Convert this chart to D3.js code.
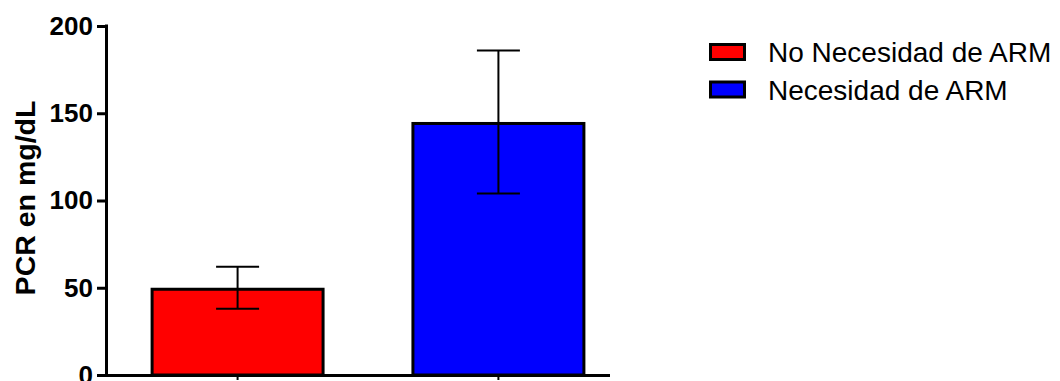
<!DOCTYPE html>
<html>
<head>
<meta charset="utf-8">
<script src="https://cdn.jsdelivr.net/npm/d3@7"></script>
<style>
  html, body { margin: 0; padding: 0; background: #fff; }
  svg { display: block; }
</style>
</head>
<body>
<svg id="chart" width="1060" height="381"></svg>
<script>
// PCR (mg/dL) by group: mean with error bar
const categories = ["No Necesidad de ARM", "Necesidad de ARM"];
const means = [50, 145];
const errors = [12, 41];
const colors = ["#ff0000", "#0000ff"];
const yTicks = [0, 50, 100, 150, 200];

const svg = d3.select("#chart");
const plotLeft = 106, plotRight = 630, plotTop = 26, plotBottom = 375;
const axisEnd = 610;

const x = d3.scaleBand()
  .domain(categories)
  .range([plotLeft, plotRight])
  .paddingInner(0.333)
  .paddingOuter(0.171);

const y = d3.scaleLinear().domain([0, 200]).range([plotBottom, plotTop]);

const data = categories.map((c, i) => ({ c, m: means[i], e: errors[i], col: colors[i] }));

// Bars
svg.append("g").selectAll("rect").data(data).join("rect")
  .attr("x", d => x(d.c) + 1.5)
  .attr("width", x.bandwidth() - 3)
  .attr("y", d => y(d.m) + 1.5)
  .attr("height", d => y(0) - y(d.m) - 1.5)
  .attr("fill", d => d.col)
  .attr("stroke", "#000")
  .attr("stroke-width", 3);

// Error bars
const capHalf = 21.5;
const eb = svg.append("g").attr("stroke", "#000").attr("stroke-width", 2);
data.forEach(d => {
  const cx = x(d.c) + x.bandwidth() / 2;
  eb.append("line").attr("x1", cx).attr("x2", cx).attr("y1", y(d.m + d.e)).attr("y2", y(d.m - d.e));
  eb.append("line").attr("x1", cx - capHalf).attr("x2", cx + capHalf).attr("y1", y(d.m + d.e)).attr("y2", y(d.m + d.e));
  eb.append("line").attr("x1", cx - capHalf).attr("x2", cx + capHalf).attr("y1", y(d.m - d.e)).attr("y2", y(d.m - d.e));
});

// Y axis
const yAxis = svg.append("g")
  .attr("transform", `translate(${plotLeft},0)`)
  .call(d3.axisLeft(y).tickValues(yTicks).tickSize(9).tickSizeOuter(0).tickPadding(4));
yAxis.select(".domain").attr("stroke-width", 3).attr("d", `M0.5,${plotTop - 1.5}V${plotBottom + 1.5}`);
yAxis.selectAll(".tick line").attr("stroke-width", 3);
yAxis.selectAll(".tick text")
  .attr("font-family", "Liberation Sans, Arial, sans-serif")
  .attr("font-weight", "bold")
  .attr("font-size", 26)
  .attr("fill", "#000");

// X axis
const xAxis = svg.append("g")
  .attr("transform", `translate(0,${plotBottom})`)
  .call(d3.axisBottom(x).tickSize(5).tickSizeOuter(0).tickFormat(""));
xAxis.select(".domain").attr("stroke-width", 3).attr("d", `M${plotLeft - 1},0.5H${axisEnd}`);
xAxis.selectAll(".tick line").attr("stroke-width", 2);

// Y axis title
svg.append("text")
  .attr("transform", `translate(35,198) rotate(-90)`)
  .attr("text-anchor", "middle")
  .attr("font-family", "Liberation Sans, Arial, sans-serif")
  .attr("font-weight", "bold")
  .attr("font-size", 28.5)
  .attr("fill", "#000")
  .text("PCR en mg/dL");

// Legend
const legend = svg.append("g").attr("transform", "translate(709,0)");
const rows = legend.selectAll("g").data(data).join("g")
  .attr("transform", (d, i) => `translate(0,${52 + i * 37.5})`);
rows.append("rect")
  .attr("x", 1.5).attr("y", -7.5)
  .attr("width", 34).attr("height", 15)
  .attr("fill", d => d.col)
  .attr("stroke", "#000").attr("stroke-width", 3);
rows.append("text")
  .attr("x", 59).attr("y", 10)
  .attr("font-family", "Liberation Sans, Arial, sans-serif")
  .attr("font-size", 28)
  .attr("fill", "#000")
  .text(d => d.c);
</script>
</body>
</html>
